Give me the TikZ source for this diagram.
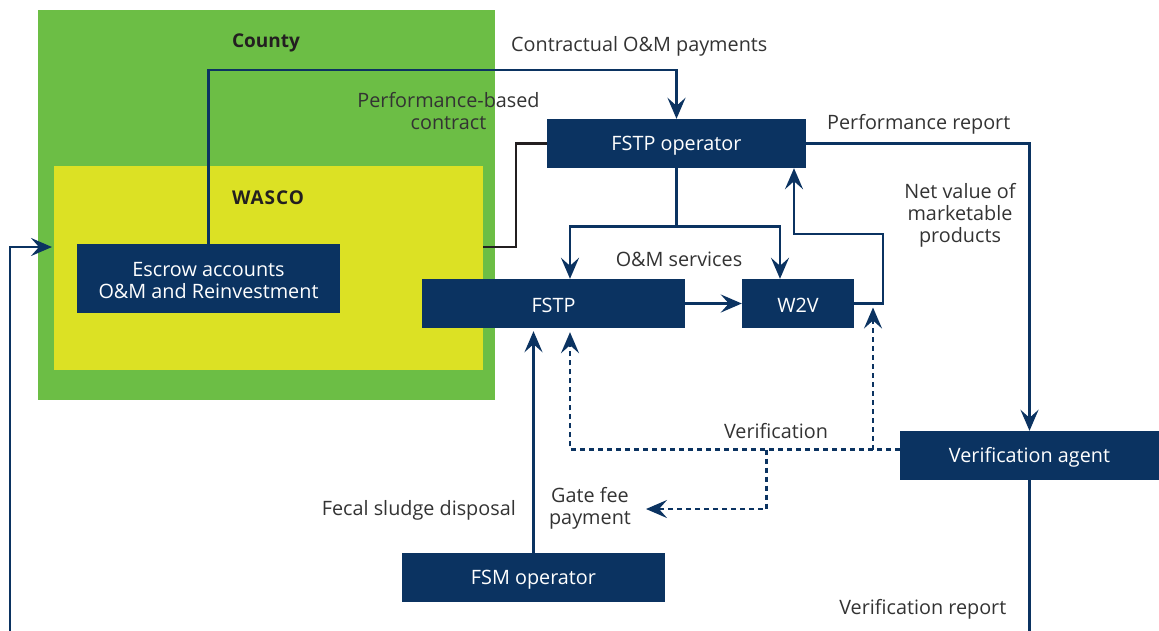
\documentclass[tikz,border=0pt]{standalone}
\usepackage{fontspec}
\setmainfont{Open Sans}
\usetikzlibrary{arrows.meta}
\definecolor{navy}{RGB}{11,51,97}
\definecolor{cgreen}{RGB}{108,190,69}
\definecolor{cyellow}{RGB}{220,225,36}
\definecolor{txt}{RGB}{51,51,51}
\definecolor{blk}{RGB}{35,31,32}
\begin{document}
\begin{tikzpicture}[x=1pt,y=-1pt,
  region/.style={inner sep=0pt,anchor=north west},
  box/.style={fill=navy,text=white,inner sep=0pt,align=center,font=\fontsize{19.8}{22}\selectfont},
  boxtext/.style={text=white,inner sep=0pt,align=center,font=\fontsize{19.8}{22}\selectfont,yshift=-2pt},
  lbl/.style={text=txt,inner sep=0pt,align=center,font=\fontsize{19.8}{22}\selectfont,yshift=-2pt},
  title/.style={text=blk,inner sep=0pt,font=\fontsize{19}{20}\selectfont\bfseries},
  conn/.style={draw=navy,line width=2.6pt},
  arr/.style={conn,-{Stealth[length=21pt,width=18pt,inset=8pt]}},
  darr/.style={arr,dash pattern=on 5pt off 4pt},
  blkline/.style={draw=blk,line width=2.6pt}]
\useasboundingbox (0,0) rectangle (1159,630);
% regions
\node[region,fill=cgreen,minimum width=457pt,minimum height=390pt] (county) at (38,10) {};
\node[region,fill=cyellow,minimum width=429pt,minimum height=204pt] (wasco) at (54,166) {};
\node[title] (countyl) at (266,43) {County};
\node[title] (wascol) at (268,198) {\addfontfeature{LetterSpace=5}WASCO};
% boxes
\node[box,minimum width=263pt,minimum height=69pt] (escrow) at (208.5,278.5) {};
\node[boxtext] (escrowt) at (208.5,278.5) {Escrow accounts\\O\&M and Reinvestment};
\node[box,minimum width=259pt,minimum height=49pt] (fop) at (676.5,143.5) {};
\node[boxtext] (fopt) at (676.5,143.5) {FSTP operator};
\node[box,minimum width=263pt,minimum height=49pt] (fstp) at (553.5,303.5) {};
\node[boxtext] (fstpt) at (553.5,303.5) {FSTP};
\node[box,minimum width=112pt,minimum height=49pt] (w2v) at (798,303.5) {};
\node[boxtext] (w2vt) at (798,303.5) {W2V};
\node[box,minimum width=259pt,minimum height=49pt] (va) at (1029.5,455.5) {};
\node[boxtext] (vat) at (1029.5,455.5) {Verification agent};
\node[box,minimum width=263pt,minimum height=49pt] (fsm) at (533.5,577.5) {};
\node[boxtext] (fsmt) at (533.5,577.5) {FSM operator};
% labels
\node[lbl,anchor=west] (l1) at (511,44) {Contractual O\&M payments};
\node[lbl] (l2) at (448.5,109) {Performance-based\\contract};
\node[lbl,anchor=west] (l3) at (827,122) {Performance report};
\node[lbl] (l4) at (960,213) {Net value of\\marketable\\products};
\node[lbl] (l5) at (679,257) {O\&M services};
\node[lbl] (l6) at (776,429) {Verification};
\node[lbl] (l7) at (590,506) {Gate fee\\payment};
\node[lbl,anchor=east] (l8) at (516,508) {Fecal sludge disposal};
\node[lbl,anchor=east] (l9) at (1006.5,607) {Verification report};
% coordinates
\coordinate (c1) at (208.5,70);
\coordinate (b1) at (483,247);
\coordinate (k2) at (883,234);
\coordinate (v1) at (873,449.5);
\coordinate (v2) at (766.5,449.5);
\coordinate (g1) at (646,509);
\coordinate (l0) at (10,632);
\coordinate (lt) at (52,247);
\coordinate (r0) at (1031,632);
% connectors
\draw[arr] (escrow.north) -- (c1) -| (fop.north);
\draw[blkline] (b1) -- ++(33,0) |- (fop.west);
\draw[conn] (fop.south) -- ++(0,58) coordinate (m);
\draw[arr] (m) -| ([xshift=16.5pt]fstp.north);
\draw[arr] (m) -| ([xshift=-18pt]w2v.north);
\draw[arr] (fstp.east) -- (w2v.west);
\draw[arr] (w2v.east) -| (k2) -| ([xshift=117.5pt]fop.south);
\draw[arr] (fop.east) -| (va.north);
\draw[arr,shorten >=3pt] (fsm.north) -- (fsm.north |- fstp.south);
\draw[darr,shorten >=4pt] ([yshift=6pt]va.west) -| ([xshift=16.5pt]fstp.south);
\draw[darr,shorten >=4pt] (v1) -- (v1 |- w2v.east);
\draw[darr] (v2) |- (g1);
\draw[conn] (va.south) -- (va.south |- r0);
\draw[arr] (l0) |- (lt);
\end{tikzpicture}
\end{document}
